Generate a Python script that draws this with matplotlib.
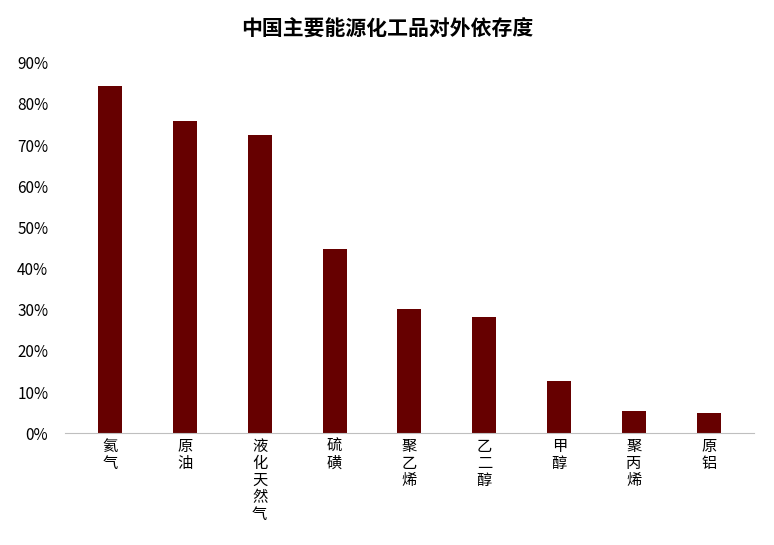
import matplotlib
matplotlib.use("Agg")
import matplotlib.pyplot as plt
from matplotlib.ticker import PercentFormatter

plt.rcParams['font.family'] = ['Noto Sans CJK SC', 'DejaVu Sans']

categories = ["氦气", "原油", "液化天然气", "硫磺", "聚乙烯", "乙二醇", "甲醇", "聚丙烯", "原铝"]
values = [84.4, 75.9, 72.5, 44.7, 30.1, 28.2, 12.6, 5.3, 5.0]

fig = plt.figure(figsize=(7.74, 5.45), dpi=100)
ax = fig.add_axes([0.084, 0.205, 0.89, 0.68])
x = range(len(categories))
ax.bar(x, values, width=0.32, color="#660000")
ax.set_xlim(-0.6, len(categories) - 0.4)
ax.set_ylim(0, 90)
ax.set_yticks(range(0, 91, 10))
ax.yaxis.set_major_formatter(PercentFormatter(decimals=0))
ax.set_xticks(list(x))
ax.set_xticklabels(["\n".join(c) for c in categories], va="top", linespacing=1.0)
ax.tick_params(axis="both", length=0, labelsize=11)
ax.tick_params(axis="y", pad=12)
for s in ["top", "right", "left"]:
    ax.spines[s].set_visible(False)
ax.spines["bottom"].set_color("#bfbfbf")
fig.suptitle("中国主要能源化工品对外依存度", fontsize=15, fontweight="bold", y=0.965)
fig.savefig("out.png")
